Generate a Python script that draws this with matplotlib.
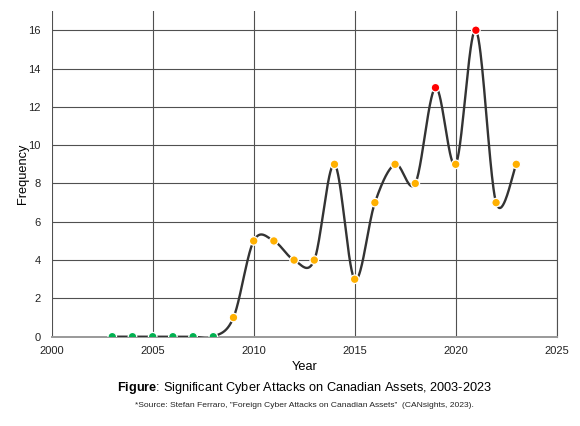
import matplotlib
matplotlib.use("Agg")
import matplotlib.pyplot as plt
import numpy as np

# --- dados ---
years = [2003, 2004, 2005, 2006, 2007, 2008, 2009, 2010, 2011, 2012, 2013,
         2014, 2015, 2016, 2017, 2018, 2019, 2020, 2021, 2022, 2023]
attacks = [0, 0, 0, 0, 0, 0, 1, 5, 5, 4, 4, 9, 3, 7, 9, 8, 13, 9, 16, 7, 9]

GREEN = "#00B050"
ORANGE = "#FFB000"
RED = "#FF0000"

plt.rcParams["font.family"] = ["Liberation Sans", "DejaVu Sans"]
plt.rcParams["mathtext.fontset"] = "custom"
plt.rcParams["mathtext.rm"] = "Liberation Sans"
plt.rcParams["mathtext.bf"] = "Liberation Sans:bold"


def smooth_line(xs, ys, n=40):
    # curva suave tipo Excel (Catmull-Rom em Bezier)
    xs = np.asarray(xs, float)
    ys = np.asarray(ys, float)
    px, py = [], []
    for i in range(len(xs) - 1):
        i0 = max(i - 1, 0)
        i3 = min(i + 2, len(xs) - 1)
        p0 = np.array([xs[i0], ys[i0]])
        p1 = np.array([xs[i], ys[i]])
        p2 = np.array([xs[i + 1], ys[i + 1]])
        p3 = np.array([xs[i3], ys[i3]])
        c1 = p1 + (p2 - p0) / 6
        c2 = p2 - (p3 - p1) / 6
        t = np.linspace(0, 1, n)[:, None]
        pts = ((1 - t) ** 3) * p1 + 3 * ((1 - t) ** 2) * t * c1 + 3 * (1 - t) * t ** 2 * c2 + t ** 3 * p2
        px.extend(pts[:, 0])
        py.extend(pts[:, 1])
    return px, py


def marker_color(v):
    if v == 0:
        return GREEN
    if v >= 10:
        return RED
    return ORANGE


fig = plt.figure(figsize=(5.8, 4.26), dpi=100)
ax = fig.add_axes([0.0891, 0.2096, 0.8707, 0.7644])

sx, sy = smooth_line(years, attacks)
ax.plot(sx, sy, color="#333333", lw=1.7, zorder=3, solid_capstyle="round")
ax.scatter(years, attacks, c=[marker_color(v) for v in attacks], s=38,
           edgecolors="white", linewidths=0.9, zorder=4)

ax.set_xlim(2000, 2025)
ax.set_ylim(0, 17)
ax.set_xticks(range(2000, 2026, 5))
ax.set_yticks(range(0, 17, 2))
ax.grid(True, color="#505050", lw=0.8)
ax.set_axisbelow(True)
for s in ax.spines.values():
    s.set_visible(False)
ax.axvline(2025, color="#505050", lw=0.8, clip_on=False, zorder=0)
ax.axhline(0, color="#999999", lw=1.4, zorder=1, clip_on=False)
ax.tick_params(axis="both", length=0, labelsize=8, colors="#222222")
ax.tick_params(axis="x", pad=7)
ax.tick_params(axis="y", pad=8)

ax.set_xlabel("Year", fontsize=9.2, labelpad=3)
ax.set_ylabel("Frequency", fontsize=9.2, labelpad=-1)

fig.text(0.525, 0.0899, r"$\bf{Figure}$: Significant Cyber Attacks on Canadian Assets, 2003-2023",
         ha="center", va="center", fontsize=9.2)
fig.text(0.525, 0.0477, "*Source: Stefan Ferraro, \u201dForeign Cyber Attacks on Canadian Assets\u201d  (CANsights, 2023).",
         ha="center", va="center", fontsize=6.1, color="#222222")

fig.savefig("out.png", dpi=100)
